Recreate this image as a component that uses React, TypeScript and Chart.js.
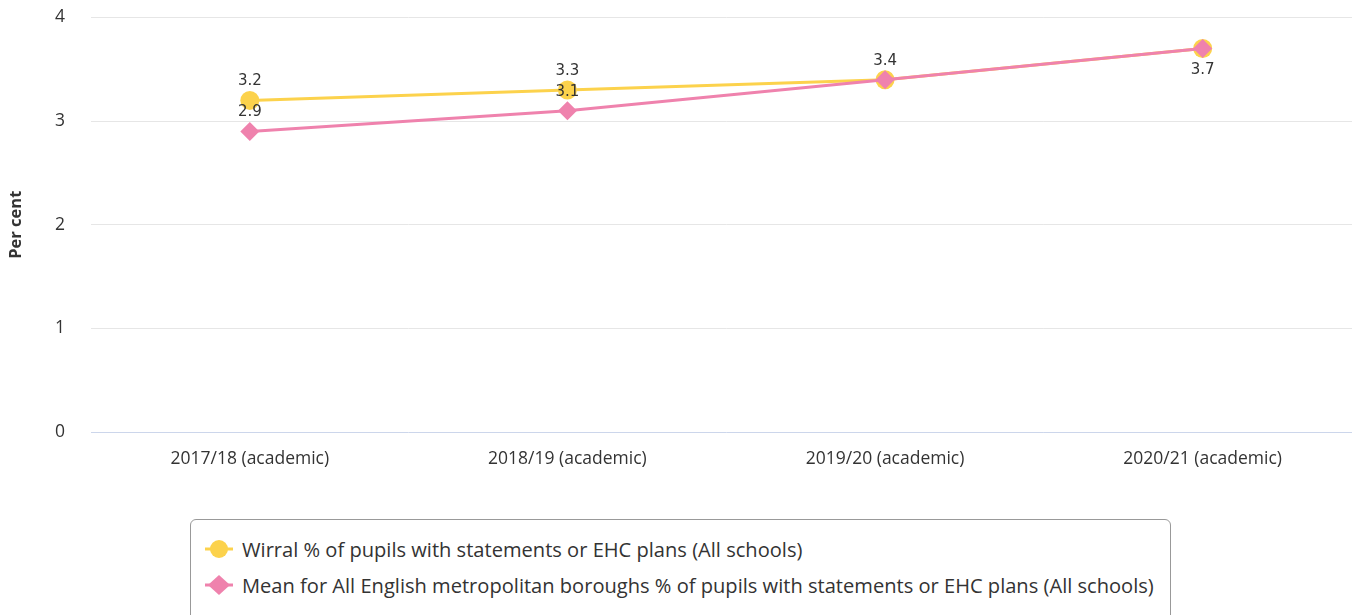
import React, { useEffect, useRef } from "react";
import { Chart, registerables } from "chart.js";

Chart.register(...registerables);

const categories = ["2017/18 (academic)", "2018/19 (academic)", "2019/20 (academic)", "2020/21 (academic)"];
const wirralValues = [3.2, 3.3, 3.4, 3.7];
const meanValues = [2.9, 3.1, 3.4, 3.7];
const yTicks = [0, 1, 2, 3, 4];
const wirralLabel = "Wirral % of pupils with statements or EHC plans (All schools)";
const meanLabel = "Mean for All English metropolitan boroughs % of pupils with statements or EHC plans (All schools)";
const yTitle = "Per cent";

const YELLOW = "#fcd24c";
const PINK = "#ef82ad";
const TEXT = "#333333";

// which value labels are shown, and where (overlapping ones are hidden)
const wirralLabelPlace = ["above", "above", "above", "none"];
const meanLabelPlace = ["above", "above", "none", "below"];

const valueLabels = {
  id: "valueLabels",
  afterDatasetsDraw(chart: any) {
    const ctx = chart.ctx;
    ctx.save();
    ctx.font = "15px 'DejaVu Sans'";
    ctx.fillStyle = TEXT;
    ctx.textAlign = "center";
    ctx.textBaseline = "middle";
    chart.data.datasets.forEach((ds: any, di: number) => {
      const meta = chart.getDatasetMeta(di);
      const places: string[] = ds.labelPlaces || [];
      meta.data.forEach((pt: any, i: number) => {
        const p = places[i];
        if (!p || p === "none") return;
        const dy = p === "above" ? -19 : 22;
        ctx.fillText(String(ds.data[i]), pt.x, pt.y + dy);
      });
    });
    ctx.restore();
  },
};

function Marker({ color, shape }: { color: string; shape: "circle" | "diamond" }) {
  return (
    <svg width={28} height={22} style={{ display: "block", marginRight: 9, flex: "none" }}>
      <line x1={0} y1={11} x2={28} y2={11} stroke={color} strokeWidth={3} />
      {shape === "circle" ? (
        <circle cx={14} cy={11} r={9} fill={color} />
      ) : (
        <polygon points="14,1 25,11 14,21 3,11" fill={color} />
      )}
    </svg>
  );
}

export default function App() {
  const ref = useRef<HTMLCanvasElement | null>(null);
  useEffect(() => {
    if (!ref.current) return;
    const chart = new Chart(ref.current, {
      type: "line",
      data: {
        labels: categories,
        datasets: [
          {
            label: wirralLabel,
            data: wirralValues,
            borderColor: YELLOW,
            backgroundColor: YELLOW,
            borderWidth: 3,
            pointStyle: "circle",
            pointRadius: 9.5,
            pointBorderWidth: 0,
            tension: 0,
            order: 1,
            labelPlaces: wirralLabelPlace,
          } as any,
          {
            label: meanLabel,
            data: meanValues,
            borderColor: PINK,
            backgroundColor: PINK,
            borderWidth: 3,
            pointStyle: "rectRot",
            pointRadius: 9.5,
            pointBorderWidth: 0,
            tension: 0,
            order: 0,
            labelPlaces: meanLabelPlace,
          } as any,
        ],
      },
      options: {
        responsive: false,
        animation: false,
        layout: { padding: { top: 16, right: 0, left: 0, bottom: 0 } },
        plugins: {
          legend: { display: false },
          tooltip: { enabled: false },
        },
        scales: {
          x: {
            offset: true,
            grid: { display: false, drawTicks: false },
            border: { display: false },
            ticks: {
              color: TEXT,
              font: { family: "'Open Sans'", size: 17.5 },
              padding: 17,
              maxRotation: 0,
            },
            afterFit: (s: any) => {
              s.height = 48;
            },
          },
          y: {
            min: 0,
            max: 4,
            afterBuildTicks: (s: any) => {
              s.ticks = yTicks.map((v) => ({ value: v }));
            },
            grid: {
              drawTicks: false,
              color: (c: any) => (c.tick && c.tick.value === 0 ? "#ccd6eb" : "#e6e6e6"),
              lineWidth: 1,
            },
            border: { display: false },
            ticks: {
              color: TEXT,
              font: { family: "'Open Sans'", size: 17.5 },
              padding: 26,
            },
            title: {
              display: true,
              text: yTitle,
              color: TEXT,
              font: { family: "'Open Sans'", size: 16.5, weight: "bold" },
              padding: { top: 6, bottom: 0 },
            },
            afterFit: (s: any) => {
              s.width = 91;
            },
          },
        },
      },
      plugins: [valueLabels],
    });
    return () => chart.destroy();
  }, []);

  return (
    <div style={{ position: "fixed", left: 0, top: 0, width: 1352, height: 615, overflow: "hidden", background: "#fff" }}>
      <canvas
        ref={ref}
        width={1371}
        height={499}
        style={{ position: "absolute", left: 0, top: -19, width: 1371, height: 499 }}
      />
      <div
        style={{
          position: "absolute",
          left: 190,
          top: 519,
          width: 981,
          height: 120,
          boxSizing: "border-box",
          border: "1px solid #999999",
          borderRadius: 6,
          padding: "11px 0 0 14px",
          fontFamily: "'Open Sans'",
          fontSize: 20.1,
          color: TEXT,
        }}
      >
        <div style={{ display: "flex", alignItems: "center", height: 36, whiteSpace: "nowrap" }}>
          <Marker color={YELLOW} shape="circle" />
          <span>{wirralLabel}</span>
        </div>
        <div style={{ display: "flex", alignItems: "center", height: 36, whiteSpace: "nowrap" }}>
          <Marker color={PINK} shape="diamond" />
          <span>{meanLabel}</span>
        </div>
      </div>
    </div>
  );
}
